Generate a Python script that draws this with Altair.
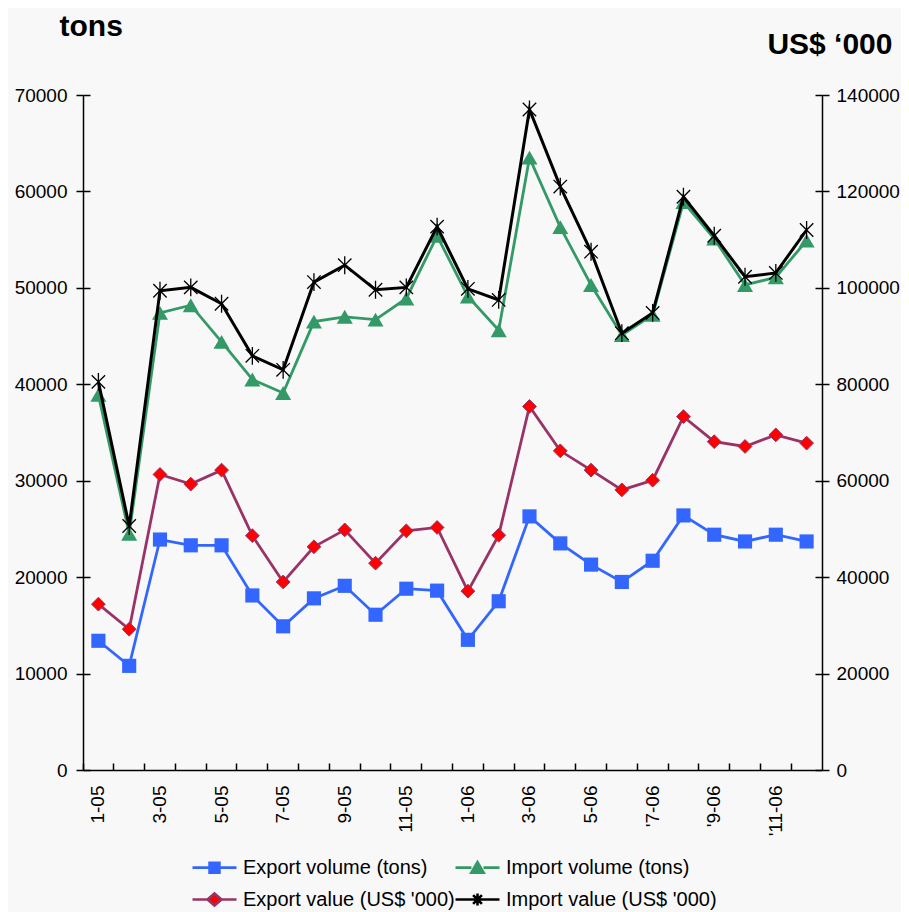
import altair as alt
import pandas as pd

months = ["1-05", "2-05", "3-05", "4-05", "5-05", "6-05", "7-05", "8-05", "9-05", "10-05", "11-05", "12-05",
          "1-06", "2-06", "3-06", "4-06", "5-06", "6-06", "'7-06", "'8-06", "'9-06", "'10-06", "'11-06", "'12-06"]
shown_months = months[0::2]

series_names = ["Export volume (tons)", "Import volume (tons)",
                "Export value (US$ '000)", "Import value (US$ '000)"]

export_volume = [13400, 10800, 23900, 23300, 23300, 18100, 14900, 17800, 19100, 16100, 18800, 18600,
                 13500, 17500, 26300, 23500, 21300, 19500, 21700, 26400, 24400, 23700, 24400, 23700]
import_volume = [38900, 24500, 47400, 48200, 44400, 40500, 39100, 46500, 47000, 46700, 48900, 55400,
                 49100, 45600, 63500, 56300, 50300, 45100, 47200, 58900, 55100, 50300, 51100, 54900]
export_value = [34400, 29200, 61300, 59300, 62200, 48600, 39000, 46300, 49800, 42900, 49600, 50300,
                37100, 48700, 75400, 66200, 62200, 58100, 60100, 73300, 68100, 67100, 69500, 67800]
import_value = [80500, 50600, 99400, 100100, 96700, 85900, 83000, 101200, 104700, 99600, 100100, 112700,
                99800, 97500, 137000, 121000, 107500, 90600, 94800, 118900, 110800, 102300, 103100, 112000]

left_ticks = [0, 10000, 20000, 30000, 40000, 50000, 60000, 70000]
right_ticks = [0, 20000, 40000, 60000, 80000, 100000, 120000, 140000]

df = pd.DataFrame({
    "month": months,
    "export_volume": export_volume,
    "import_volume": import_volume,
    "export_value": export_value,
    "import_value": import_value,
})
legend_df = pd.DataFrame({"series": series_names})

FONT = "Liberation Sans"
BLUE = "#3366ff"
GREEN = "#339966"
MAROON = "#993366"
RED = "#ff0000"
BLACK = "#000000"
BG = "#f8f8f8"

xscale = alt.Scale(type="band", domain=months, paddingInner=0, paddingOuter=0)
left_scale = alt.Scale(domain=[0, 70000], nice=False, zero=True)
right_scale = alt.Scale(domain=[0, 140000], nice=False, zero=True)

common = dict(labelFont=FONT, labelFontSize=19, labelColor=BLACK, tickColor=BLACK,
              domainColor=BLACK, tickWidth=1.5, domainWidth=1.5, grid=False)

x_label_axis = alt.Axis(orient="bottom", values=shown_months, labelAngle=270, labelAlign="right",
                        labelBaseline="middle", ticks=False, tickSize=0, labelPadding=15,
                        labelOverlap=False, title=None, **common)
x_tick_axis = alt.Axis(orient="bottom", offset=-7, domain=False, labels=False, ticks=True,
                       tickSize=7, bandPosition=0, title=None, tickColor=BLACK, tickWidth=1.5,
                       grid=False)

left_axis = alt.Axis(orient="left", values=left_ticks, format="d", tickSize=7, labelPadding=9,
                     title="tons", titleAngle=0, titleX=-24, titleY=-60, titleAlign="left",
                     titleBaseline="alphabetic", titleFont=FONT, titleFontSize=30,
                     titleFontWeight="bold", titleColor=BLACK, **common)
left_inner = alt.Axis(orient="left", values=left_ticks, offset=-7, domain=False, labels=False,
                      tickSize=7, title=None, tickColor=BLACK, tickWidth=1.5, grid=False)
right_axis = alt.Axis(orient="right", values=right_ticks, format="d", tickSize=7, labelPadding=7,
                      title="US$ \u2018000", titleAngle=0, titleX=70, titleY=-42,
                      titleAlign="right", titleBaseline="alphabetic", titleFont=FONT,
                      titleFontSize=30, titleFontWeight="bold", titleColor=BLACK, **common)
right_inner = alt.Axis(orient="right", values=right_ticks, offset=-7, domain=False, labels=False,
                       tickSize=7, title=None, tickColor=BLACK, tickWidth=1.5, grid=False)

asterisk = "M-0.75,-0.75L0.75,0.75M-0.75,0.75L0.75,-0.75M0,-1L0,1"

layer_a = alt.Chart(df).mark_line(
    color=BLUE, strokeWidth=2.8,
    point=alt.OverlayMarkDef(shape="square", size=200, filled=True, color=BLUE, opacity=1),
).encode(
    x=alt.X("month:N", scale=xscale, axis=x_label_axis),
    y=alt.Y("export_volume:Q", scale=left_scale, axis=left_axis),
)

layer_b = alt.Chart(df).mark_line(
    color=GREEN, strokeWidth=2.8,
    point=alt.OverlayMarkDef(shape="triangle-up", size=256, filled=True, color=GREEN, opacity=1),
).encode(
    x=alt.X("month:N", scale=xscale, axis=x_tick_axis),
    y=alt.Y("import_volume:Q", scale=left_scale, axis=left_inner),
)

layer_c = alt.Chart(df).mark_line(
    color=MAROON, strokeWidth=2.8,
    point=alt.OverlayMarkDef(shape="diamond", size=190, filled=True, fill=RED, stroke=MAROON,
                             strokeWidth=1, opacity=1),
).encode(
    x=alt.X("month:N", scale=xscale, axis=None),
    y=alt.Y("export_value:Q", scale=right_scale, axis=right_axis),
)

layer_d = alt.Chart(df).mark_line(
    color=BLACK, strokeWidth=3,
    point=alt.OverlayMarkDef(shape=asterisk, size=320, filled=False, stroke=BLACK,
                             strokeWidth=1.3, opacity=1),
).encode(
    x=alt.X("month:N", scale=xscale, axis=None),
    y=alt.Y("import_value:Q", scale=right_scale, axis=right_inner),
)

legend_paths = [
    "M-2,0L-0.45,0M0.45,0L2,0M-0.45,-0.45L0.45,-0.45L0.45,0.45L-0.45,0.45Z",
    "M-2,0L-0.55,0M0.55,0L2,0M0,-0.5L0.56,0.45L-0.56,0.45Z",
    "M-2,0L-0.62,0M0.62,0L2,0M0,-0.55L0.64,0L0,0.55L-0.64,0Z",
    "M-2,0L2,0M-0.4,-0.4L0.4,0.4M-0.4,0.4L0.4,-0.4M0,-0.55L0,0.55",
]
legend_strokes = [BLUE, GREEN, MAROON, BLACK]
legend_fills = [BLUE, GREEN, RED, "transparent"]

legend = alt.Legend(title=None, orient="none", legendX=119, legendY=760, columns=2,
                    direction="horizontal", columnPadding=-5, rowPadding=9, symbolSize=484,
                    symbolStrokeWidth=2.6, symbolOpacity=1, labelFont=FONT, labelFontSize=20,
                    labelColor=BLACK, labelOffset=16, labelLimit=0, padding=0)

layer_legend = alt.Chart(legend_df).mark_point(filled=True).encode(
    fill=alt.Fill("series:N", scale=alt.Scale(domain=series_names, range=legend_fills), legend=legend),
    stroke=alt.Stroke("series:N", scale=alt.Scale(domain=series_names, range=legend_strokes), legend=legend),
    shape=alt.Shape("series:N", scale=alt.Scale(domain=series_names, range=legend_paths), legend=legend),
).transform_filter("false")

chart = alt.layer(layer_a, layer_b, layer_c, layer_d, layer_legend).resolve_scale(
    y="independent"
).resolve_axis(
    x="independent", y="independent"
).properties(
    width=739, height=675,
    autosize=alt.AutoSizeParams(type="none"),
    padding={"left": 75, "top": 87, "right": 79, "bottom": 142},
    background=BG,
).configure_view(stroke=None)

chart.save("out.html", embed_options={"renderer": "svg", "actions": False})
